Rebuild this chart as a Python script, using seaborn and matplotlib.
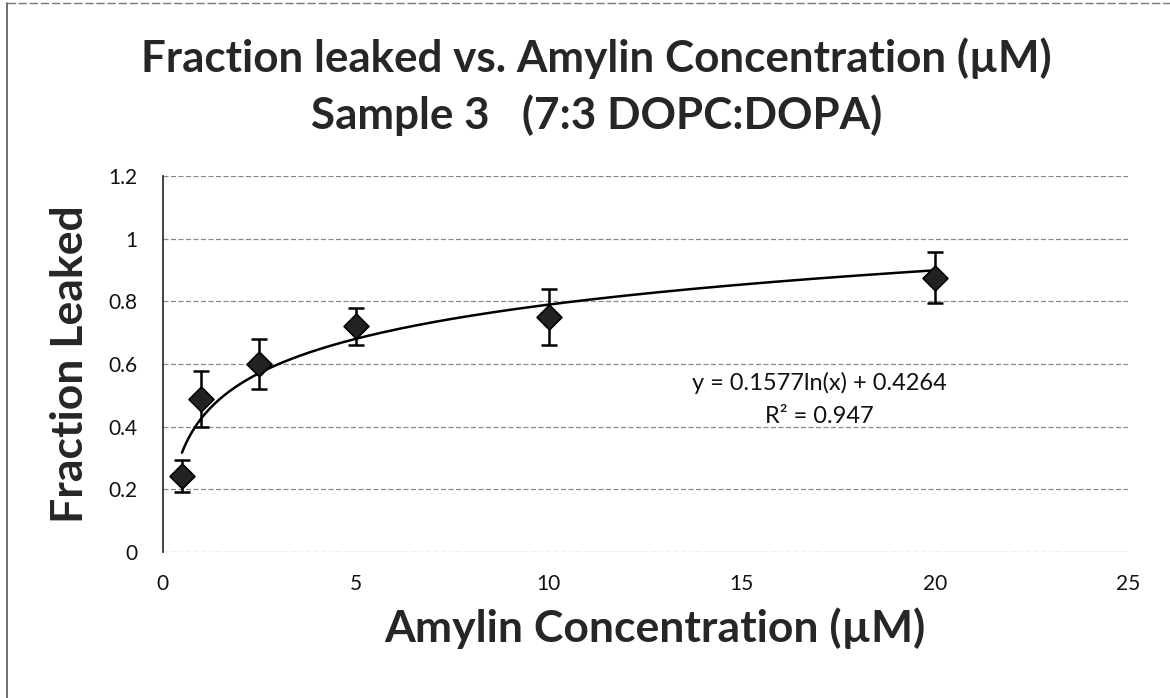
import matplotlib
matplotlib.use("Agg")
import matplotlib.pyplot as plt
from matplotlib.lines import Line2D
import seaborn as sns
import numpy as np
import pandas as pd

# data
conc = [0.5, 1, 2.5, 5, 10, 20]
leaked = [0.243, 0.489, 0.600, 0.720, 0.750, 0.875]
err = [0.05, 0.09, 0.08, 0.058, 0.088, 0.082]

# log trendline coefficients (from the equation label)
fit_slope = 0.1577
fit_intercept = 0.4264
fit_r2 = 0.947

df = pd.DataFrame({"conc": conc, "leaked": leaked, "err": err})
x_fit = np.linspace(min(conc), max(conc), 300)
fit_df = pd.DataFrame({"conc": x_fit, "leaked": fit_slope * np.log(x_fit) + fit_intercept})

sns.set_style("white")
plt.rcParams["font.family"] = ["Lato", "DejaVu Sans"]

fig = plt.figure(figsize=(11.7, 6.98), dpi=100)
ax = fig.add_axes([0.139, 0.209, 0.825, 0.539])

# chart frame (only left/top edges visible in the scan)
fig.add_artist(Line2D([0.006, 0.006], [0, 0.996], transform=fig.transFigure,
                      color="#555555", linewidth=1.2))
fig.add_artist(Line2D([0.006, 1], [0.996, 0.996], transform=fig.transFigure,
                      color="#777777", linewidth=1.0, linestyle=(0, (6, 2))))

# trendline
sns.lineplot(data=fit_df, x="conc", y="leaked", ax=ax, color="black", linewidth=1.8)

# error bars + points
ax.errorbar(df["conc"], df["leaked"], yerr=df["err"], fmt="none",
            ecolor="black", elinewidth=1.8, capsize=6, capthick=1.8, zorder=3)
sns.scatterplot(data=df, x="conc", y="leaked", ax=ax, marker="D", s=160,
                color="#222222", edgecolor="black", linewidth=1.2, zorder=4)

ax.set_xlim(0, 25)
ax.set_ylim(0, 1.2)
ax.set_xticks([0, 5, 10, 15, 20, 25])
ax.set_yticks([0, 0.2, 0.4, 0.6, 0.8, 1.0, 1.2])
ax.set_yticklabels(["0", "0.2", "0.4", "0.6", "0.8", "1", "1.2"])
ax.tick_params(axis="y", labelsize=15, length=0, pad=18, labelcolor="#111111")
ax.tick_params(axis="x", labelsize=15, length=0, pad=16, labelcolor="#111111")

ax.yaxis.grid(True, color="#8a8a8a", linestyle=(0, (4, 2)), linewidth=0.9)
ax.xaxis.grid(False)
for side in ["top", "right", "bottom"]:
    ax.spines[side].set_visible(False)
ax.spines["left"].set_color("#333333")
ax.spines["left"].set_linewidth(1.3)

ax.set_xlabel("Amylin Concentration (\u00b5M)", fontsize=32, fontweight="bold")
ax.xaxis.label.set_va("baseline")
ax.xaxis.set_label_coords(0.51, -0.239)
ax.set_ylabel("Fraction Leaked", fontsize=32, fontweight="bold")
ax.yaxis.label.set_va("center")
ax.yaxis.set_label_coords(-0.096, 0.5)

ax.text(17.0, 0.54, f"y = {fit_slope}ln(x) + {fit_intercept}", fontsize=17,
        ha="center", va="center", color="#111111")
ax.text(17.0, 0.431, f"R\u00b2 = {fit_r2}", fontsize=17,
        ha="center", va="center", color="#111111")

fig.text(0.51, 0.897, "Fraction leaked vs. Amylin Concentration (\u00b5M)",
         fontsize=31.7, fontweight="bold", ha="center", va="baseline")
fig.text(0.51, 0.815, "Sample 3   (7:3 DOPC:DOPA)",
         fontsize=31.7, fontweight="bold", ha="center", va="baseline")

fig.savefig("out.png", dpi=100)
